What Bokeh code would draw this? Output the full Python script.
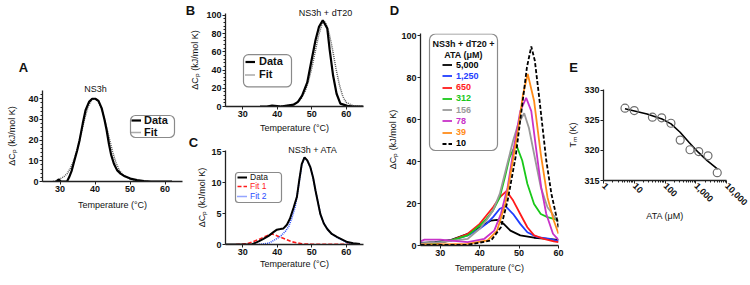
import math
from bokeh.plotting import figure
from bokeh.layouts import row, column
from bokeh.models import (Range1d, Legend, LegendItem, Label, BoxAnnotation, Title,
                          FixedTicker, NumeralTickFormatter)
from bokeh.embed import file_html
from bokeh.resources import INLINE

FONT = "Liberation Sans"

# ---------------- data ----------------
# Panel A (NS3h)
a_data_t = [29.0, 29.6, 30.3, 32.0, 32.6, 33.3, 34.1, 34.9, 35.6, 36.5, 37.3, 38.3, 39.2, 40.1,
            41.0, 41.9, 42.7, 43.3, 44.0, 44.6, 45.4, 46.3, 47.3, 48.5, 50.1, 52.0, 54.0, 56.0, 62.0]
a_data_v = [0.0, 1.0, 0.0, 0.0, 2.0, 5.0, 10.0, 15.0, 20.0, 28.0, 34.5, 38.5, 40.0, 40.0,
            39.0, 35.5, 30.0, 25.0, 18.0, 13.0, 8.6, 5.5, 3.8, 2.5, 1.4, 0.7, 0.2, 0.0, 0.0]
a_fit_t = [28.0, 29.5, 31.0, 32.0, 33.0, 34.0, 35.0, 36.0, 37.0, 38.0, 39.0, 40.0, 41.0, 42.0,
           43.0, 44.0, 45.0, 46.0, 47.0, 48.0, 50.0, 52.0, 55.0]
a_fit_v = [0.0, 0.8, 2.2, 3.7, 6.5, 10.5, 16.0, 23.0, 30.0, 36.0, 39.5, 40.0, 38.5, 34.5,
           28.5, 21.5, 14.5, 9.0, 5.3, 3.2, 1.2, 0.4, 0.0]

# Panel B (NS3h + dT20)
b_data_t = [35.0, 37.0, 38.5, 40.0, 41.0, 44.8, 46.0, 47.2, 48.7, 49.8, 51.1, 52.1, 53.2, 54.5,
            55.2, 56.2, 57.2, 58.3, 60.3, 62.0, 65.0]
b_data_v = [0.0, 0.0, 1.0, 0.5, 0.0, 2.0, 5.0, 12.0, 26.5, 48.0, 73.0, 87.4, 94.6, 85.7,
            62.0, 33.7, 14.0, 3.2, 0.7, 0.0, 0.0]
b_fit_t = [40.0, 44.0, 46.0, 47.0, 48.0, 49.0, 50.0, 51.0, 52.0, 53.0, 53.5, 54.0, 55.0, 56.0,
           57.0, 58.0, 59.0, 60.0, 62.0, 65.0]
b_fit_v = [0.0, 1.5, 5.0, 9.0, 16.0, 27.0, 42.0, 60.0, 78.0, 91.0, 93.5, 92.0, 81.0, 63.0,
           42.0, 24.0, 11.0, 4.5, 0.8, 0.0]

# Panel C (NS3h + ATA)
c_data_t = [25.0, 32.6, 34.6, 36.0, 37.5, 38.9, 39.9, 40.9, 41.8, 42.8, 43.7, 44.7, 45.7, 46.4,
            47.1, 47.9, 48.7, 49.6, 50.4, 51.1, 52.5, 53.5, 54.5, 55.8, 57.4, 60.3, 62.0, 64.0]
c_data_v = [0.0, 0.0, 0.5, 0.9, 1.4, 2.0, 2.4, 2.5, 2.6, 3.2, 4.2, 5.9, 7.7, 10.5,
            13.0, 14.1, 13.6, 12.5, 10.8, 8.7, 4.9, 3.4, 2.5, 1.7, 1.2, 0.4, 0.2, 0.1]
c_fit1_t = [28.0, 29.6, 31.7, 34.6, 36.5, 38.0, 38.4, 39.2, 40.4, 42.3, 44.2, 47.1, 50.0, 55.0,
            60.0, 64.0]
c_fit1_v = [0.0, 0.02, 0.2, 0.8, 1.3, 1.6, 1.7, 1.6, 1.3, 0.9, 0.45, 0.1, 0.05, 0.03,
            0.03, 0.03]
c_fit2_t = [33.0, 34.6, 37.5, 39.4, 40.9, 42.3, 43.3, 44.2, 45.2, 46.2, 47.1, 47.9, 48.7, 49.6,
            50.4, 51.1, 52.5, 53.5, 54.5, 55.8, 57.4, 60.3, 63.0]
c_fit2_v = [0.0, 0.0, 0.2, 0.8, 1.3, 2.1, 2.9, 4.2, 6.1, 9.5, 12.8, 14.1, 13.6, 12.5,
            10.8, 8.7, 4.9, 3.4, 2.5, 1.7, 1.1, 0.3, 0.0]

# Panel D (NS3h + dT20 + ATA, uM)
d_labels = ["5,000", "1,250", "650", "312", "156", "78", "39", "10"]
d_colors = ["#000000", "#1f3dff", "#ff1a1a", "#19c819", "#9a9a9a", "#c832c8", "#ff8c1a", "#000000"]
d_t_5000 = [25.0, 28.6, 32.8, 37.0, 39.5, 41.2, 42.9, 44.4, 46.1, 47.8, 50.3, 53.8, 57.2, 60.0]
d_v_5000 = [1.2, 1.6, 2.7, 5.6, 8.0, 10.0, 11.9, 12.2, 10.3, 7.1, 4.8, 3.7, 3.2, 2.7]
d_t_1250 = [25.0, 28.6, 32.8, 37.0, 40.0, 41.7, 43.4, 45.1, 46.6, 48.5, 50.3, 52.1, 54.6, 57.9, 60.0]
d_v_1250 = [1.0, 1.3, 2.4, 4.8, 8.0, 10.3, 13.5, 17.5, 18.6, 15.0, 10.3, 6.3, 4.0, 3.2, 2.0]
d_t_650 = [25.0, 28.6, 32.8, 37.0, 40.0, 41.7, 43.4, 45.1, 46.8, 48.5, 50.3, 52.1, 53.8, 56.3, 58.8, 60.0]
d_v_650 = [0.5, 0.8, 2.4, 5.6, 10.3, 14.3, 18.2, 23.0, 25.9, 21.4, 15.0, 8.7, 4.8, 3.2, 2.0, 1.6]
d_t_312 = [25.0, 28.6, 32.8, 37.0, 40.0, 41.7, 43.4, 45.1, 46.4, 47.6, 49.2, 50.8, 52.1, 53.8,
           55.5, 57.2, 58.8, 60.0]
d_v_312 = [0.8, 1.1, 2.4, 4.8, 9.5, 12.7, 16.7, 23.0, 32.5, 42.0, 48.4, 40.5, 29.4, 19.8,
           15.0, 13.5, 12.7, 11.9]
d_t_156 = [25.0, 30.2, 37.0, 40.0, 41.7, 43.4, 45.1, 46.8, 48.5, 49.8, 51.3, 52.5, 53.8, 55.5,
           57.2, 58.8, 60.0]
d_v_156 = [1.0, 1.6, 3.2, 8.0, 11.9, 16.7, 24.6, 37.3, 50.0, 58.0, 63.0, 56.0, 43.7, 27.8,
           18.2, 14.3, 11.1]
d_t_78 = [25.0, 26.0, 30.0, 37.0, 41.2, 43.7, 45.4, 47.1, 48.7, 50.3, 51.8, 53.1, 54.4, 55.6,
          56.9, 58.6, 60.0]
d_v_78 = [2.0, 2.8, 2.8, 1.6, 3.2, 7.1, 15.1, 27.8, 46.8, 64.0, 70.3, 64.0, 45.0, 27.8,
          15.0, 5.6, 2.7]
d_t_39 = [25.0, 30.0, 37.0, 42.0, 44.4, 46.5, 48.1, 49.8, 51.0, 52.2, 53.8, 55.5, 57.2, 58.8, 60.0]
d_v_39 = [0.5, 0.5, 0.8, 2.4, 7.0, 19.8, 37.0, 56.0, 72.0, 81.7, 69.0, 43.7, 23.0, 11.9, 5.6]
d_t_10 = [25.0, 30.0, 37.0, 42.9, 45.4, 47.1, 49.1, 50.6, 52.0, 53.1, 54.0, 55.2, 56.9, 58.2, 59.5, 60.0]
d_v_10 = [0.3, 0.3, 0.3, 2.4, 8.7, 21.4, 42.0, 64.0, 85.0, 94.8, 88.0, 69.0, 40.5, 24.6, 13.5, 8.7]

# Panel E (Tm vs ATA)
e_conc = [5, 10, 39, 78, 156, 312, 650, 1250, 2500, 5000]
e_tm = [327.0, 326.6, 325.5, 325.4, 324.5, 321.7, 320.1, 319.8, 319.1, 316.3]
e_fit_conc = [5, 26, 80, 157, 310, 610, 1200, 2350, 5150]
e_fit_tm = [326.9, 326.05, 325.2, 324.4, 323.0, 321.3, 319.7, 318.3, 316.9]

# ---------------- layout geometry (page px) ----------------
# panel: frame left, right, top, bottom, x range, y range, log-x, figure origin y
GEO = {
    "A": (42, 182, 90, 181, (25, 65), (0, 44), False, 0),
    "B": (225, 363, 13, 108, (25, 65), (0, 102), False, 0),
    "C": (225, 363, 150, 244, (25, 65), (0, 15.2), False, 135),
    "D": (420, 558, 33, 245, (25, 60), (0, 101), False, 0),
    "E": (602, 726, 89, 180, (1, 10000), (315, 330.1), True, 0),
}


def to_data(panel, ix, iy):
    x0, x1, yt, yb, xr, yr, lg, _ = GEO[panel]
    f = (ix - x0) / (x1 - x0)
    if lg:
        x = 10 ** (math.log10(xr[0]) + f * (math.log10(xr[1]) - math.log10(xr[0])))
    else:
        x = xr[0] + f * (xr[1] - xr[0])
    y = yr[0] + (yb - iy) / (yb - yt) * (yr[1] - yr[0])
    return x, y


def make_fig(panel, w, h, bl, br, bb, ylab_off, xlab_off, xlog=False):
    g = GEO[panel]
    p = figure(width=w, height=h, x_range=Range1d(*g[4]), y_range=Range1d(*g[5]),
               output_backend="svg", toolbar_location=None, title=None,
               x_axis_type="log" if xlog else "linear",
               min_border_left=bl, min_border_right=br, min_border_top=0, min_border_bottom=bb)
    p.frame_align = False
    p.outline_line_color = None
    p.xgrid.visible = False
    p.ygrid.visible = False
    for ax in (p.xaxis[0], p.yaxis[0]):
        ax.axis_line_width = 1.3
        ax.axis_line_color = "#222222"
        ax.major_tick_line_color = "#222222"
        ax.minor_tick_line_color = "#222222"
        ax.major_tick_in = 0
        ax.major_tick_out = 3
        ax.minor_tick_in = 0
        ax.minor_tick_out = 0
        ax.major_label_text_font = FONT
        ax.major_label_text_font_size = "9px"
        ax.major_label_text_font_style = "bold"
        ax.major_label_text_color = "#111111"
        ax.major_label_standoff = 1
        ax.axis_label_text_font = FONT
        ax.axis_label_text_font_size = "9px"
        ax.axis_label_text_font_style = "normal"
        ax.axis_label_text_color = "#111111"
    p.yaxis[0].axis_label_standoff = ylab_off
    p.xaxis[0].axis_label_standoff = xlab_off
    return p


def add_titles(p, panel, items):
    """items, nearest the frame first: (text, font px, style, centre x, centre y, width em)."""
    fx0, _, ftop, _, _, _, _, oy = GEO[panel]
    F = ftop - oy
    bottom = float(F)
    for txt, fs, style, cx, cy, wem in items:
        z = max(0.0, 2.0 * (bottom + 2.0 - (cy - oy)))
        z = min(z, bottom)
        h = 1.13 * fs
        p.add_layout(Title(text=txt, text_font=FONT, text_font_size=f"{fs}px",
                           text_font_style=style, text_color="#111111", align="left",
                           vertical_align="bottom", standoff=z - 2 - h,
                           offset=cx - wem * fs / 2.0 - fx0), "above")
        bottom -= z
    p.min_border_top = int(round(F))


def add_top_letter(p, panel, txt, fs, cx, cy, wem):
    """A panel letter high above a short top border: two-line title box, text on the first line."""
    fx0, _, ftop, _, _, _, _, oy = GEO[panel]
    F = ftop - oy
    h = 1.13 * fs
    s = 2.0 * (F - 2 - 2 * h + h / 2.0 + 1 - (cy - oy))
    p.add_layout(Title(text=txt + "\n\u00a0", text_font=FONT, text_font_size=f"{fs}px",
                       text_font_style="bold", text_color="#111111", align="left",
                       vertical_align="top", standoff=s,
                       offset=cx - wem * fs / 2.0 - fx0), "above")
    p.min_border_top = int(round(F))


def add_text(p, panel, txt, ix, iy, size="9px", style="normal", align="center"):
    x, y = to_data(panel, ix, iy)
    p.add_layout(Label(x=x, y=y, text=txt, text_font=FONT, text_font_size=size,
                       text_font_style=style, text_align=align, text_baseline="middle",
                       text_color="#111111"))


def add_box(p, panel, l, r, t, b, radius=5):
    x0, y0 = to_data(panel, l, b)
    x1, y1 = to_data(panel, r, t)
    p.add_layout(BoxAnnotation(left=x0, right=x1, bottom=y0, top=y1, fill_color=None,
                               line_color="#8a8a8a", line_width=1.2, line_alpha=1.0,
                               border_radius=radius, level="overlay"))


def add_item(p, panel, label, rend, color, ix, iy, row_h, fsize, glyph_w, standoff, style="bold"):
    fx0 = GEO[panel][0]
    fyb = GEO[panel][3]
    rh = int(round(row_h))
    leg = Legend(items=[LegendItem(label=label, renderers=[rend])],
                 location=(float(ix - fx0), float(fyb - iy - rh / 2.0)),
                 padding=0, margin=0, spacing=0, label_standoff=standoff,
                 glyph_width=glyph_w, glyph_height=rh, label_height=rh, label_width=5,
                 label_text_font=FONT, label_text_font_size=f"{fsize}px",
                 label_text_font_style=style, label_text_color=color,
                 background_fill_alpha=0, border_line_alpha=0)
    p.add_layout(leg)


YLAB = "\u0394C\u209a (kJ/mol K)"
XLAB = "Temperature (\u00b0C)"

# ---------------- Panel A ----------------
pa = make_fig("A", 183, 285, 42, 1, 104, 8, 5)
pa.xaxis.ticker = FixedTicker(ticks=[30, 40, 50, 60])
pa.yaxis.ticker = FixedTicker(ticks=[0, 10, 20, 30, 40],
                              minor_ticks=[v for v in range(0, 44, 2)])
pa.yaxis.minor_tick_out = 2
pa.xaxis.axis_label = XLAB
pa.yaxis.axis_label = YLAB
ra_fit = pa.line(a_fit_t, a_fit_v, line_color="#555555", line_width=1.5, line_dash="1 1")
ra_dat = pa.line(a_data_t, a_data_v, line_color="black", line_width=2.2)
add_titles(pa, "A", [("NS3h", 9, "normal", 95, 89, 2.50), ("A", 13, "bold", 23, 68, 0.722)])
add_box(pa, "A", 130, 174, 115, 137)
add_item(pa, "A", "Data", ra_dat, "#111111", 131, 120.3, 12, 11, 10, 3)
add_item(pa, "A", "Fit", ra_fit, "#111111", 131, 131.7, 12, 11, 10, 3)

# ---------------- Panel B ----------------
pb = make_fig("B", 182, 135, 42, 2, 27, 3, 3)
pb.xaxis.ticker = FixedTicker(ticks=[30, 40, 50, 60])
pb.yaxis.ticker = FixedTicker(ticks=[0, 20, 40, 60, 80, 100],
                              minor_ticks=[v for v in range(0, 102, 4)])
pb.yaxis.minor_tick_out = 2
pb.xaxis.axis_label = XLAB
pb.yaxis.axis_label = YLAB
rb_fit = pb.line(b_fit_t, b_fit_v, line_color="#555555", line_width=1.5, line_dash="1 1")
rb_dat = pb.line(b_data_t, b_data_v, line_color="black", line_width=2.2)
add_titles(pb, "B", [("NS3h + dT20", 9, "normal", 325, 13, 5.92), ("B", 13, "bold", 190, 12, 0.722)])
add_box(pb, "B", 243, 291, 55, 88)
add_item(pb, "B", "Data", rb_dat, "#111111", 245, 63, 13, 11, 10, 4)
add_item(pb, "B", "Fit", rb_fit, "#111111", 245, 76.3, 13, 11, 10, 4)

# ---------------- Panel C ----------------
pc = make_fig("C", 182, 150, 42, 2, 41, 1, 1)
pc.xaxis.ticker = FixedTicker(ticks=[30, 40, 50, 60])
pc.yaxis.ticker = FixedTicker(ticks=[0, 5, 10, 15])
pc.xaxis.axis_label = XLAB
pc.yaxis.axis_label = YLAB
rc_f1 = pc.line(c_fit1_t, c_fit1_v, line_color="#ff1a1a", line_width=1.6, line_dash="4 2")
rc_f2 = pc.line(c_fit2_t, c_fit2_v, line_color="#2a4dff", line_width=1.6, line_dash="1 1")
rc_dat = pc.line(c_data_t, c_data_v, line_color="black", line_width=2.0)
add_titles(pc, "C", [("NS3h + ATA", 9, "normal", 313, 150, 5.59), ("C", 13, "bold", 193, 143, 0.722)])
add_box(pc, "C", 235, 281, 172, 202, radius=3)
add_item(pc, "C", "Data", rc_dat, "#111111", 237, 176.7, 10, 8.5, 10, 3, style="normal")
add_item(pc, "C", "Fit 1", rc_f1, "#ff1a1a", 237, 186.4, 10, 8.5, 10, 3, style="normal")
add_item(pc, "C", "Fit 2", rc_f2, "#2a4dff", 237, 196.1, 10, 8.5, 10, 3, style="normal")

# ---------------- Panel D ----------------
pd = make_fig("D", 200, 285, 55, 7, 40, 0, 4)
pd.xaxis.ticker = FixedTicker(ticks=[30, 40, 50, 60])
pd.yaxis.ticker = FixedTicker(ticks=[0, 20, 40, 60, 80, 100])
pd.xaxis.axis_label = XLAB
pd.yaxis.axis_label = YLAB
d_series = [(d_t_5000, d_v_5000), (d_t_1250, d_v_1250), (d_t_650, d_v_650), (d_t_312, d_v_312),
            (d_t_156, d_v_156), (d_t_78, d_v_78), (d_t_39, d_v_39), (d_t_10, d_v_10)]
d_rends = []
for (tt, vv), lab, col in zip(d_series, d_labels, d_colors):
    dash = "4 2" if lab == "10" else "solid"
    d_rends.append(pd.line(tt, vv, line_color=col, line_width=1.8, line_dash=dash))
add_top_letter(pd, "D", "D", 13, 394, 12, 0.722)
add_box(pd, "D", 429, 497, 33.5, 150, radius=6)
add_text(pd, "D", "NS3h + dT20 +", 463, 43.5, size="9px", style="bold")
add_text(pd, "D", "ATA (\u03bcM)", 463, 54.5, size="9px", style="bold")
for i, (r, lab, col) in enumerate(zip(d_rends, d_labels, d_colors)):
    add_item(pd, "D", lab, r, col, 442, 64.5 + 11.25 * i, 11, 9, 10, 4)

# ---------------- Panel E ----------------
pe = make_fig("E", 185, 285, 37, 24, 105, 3, 0, xlog=True)
pe.xaxis.ticker = FixedTicker(ticks=[1, 10, 100, 1000, 10000],
                              minor_ticks=[m * 10 ** e for e in range(0, 4) for m in range(2, 10)])
pe.xaxis.formatter = NumeralTickFormatter(format="0,0")
pe.xaxis.major_label_orientation = -math.pi / 4
pe.xaxis.minor_tick_out = 2
pe.yaxis.ticker = FixedTicker(ticks=[315, 320, 325, 330])
pe.xaxis.axis_label = "ATA (\u03bcM)"
pe.yaxis.axis_label = "T\u2098 (K)"
pe.line(e_fit_conc, e_fit_tm, line_color="black", line_width=1.6)
pe.scatter(e_conc, e_tm, marker="circle", size=8, fill_color=None, line_color="#6e6e6e",
           line_width=1.2)
add_titles(pe, "E", [("E", 13, "bold", 572, 68, 0.667)])

layout = row(pa, column(pb, pc), pd, pe)
open("out.html", "w").write(file_html(layout, INLINE))
